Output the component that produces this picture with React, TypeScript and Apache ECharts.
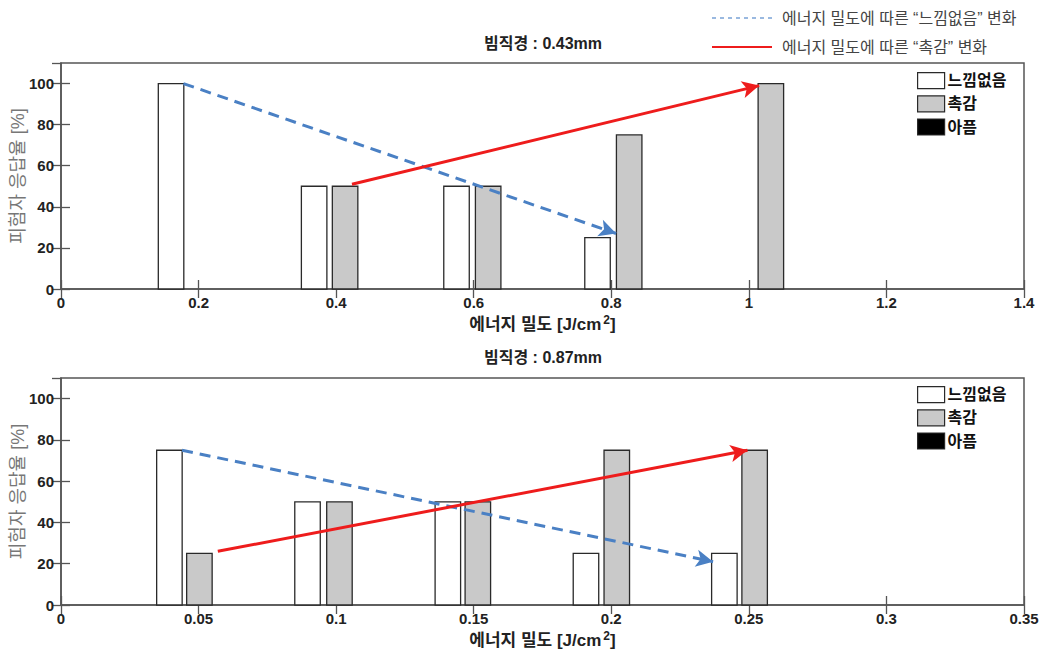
import React, { useEffect, useRef } from "react";
import * as echarts from "echarts";

// ---- Data ----
const seriesNames = ["느낌없음", "촉감", "아픔"];

// Panel 1: beam diameter 0.43 mm, x = energy density [J/cm²], y = response rate [%]
const topNoFeel: number[][] = [[0.16, 100], [0.368, 50], [0.575, 50], [0.78, 25]];
const topTouch: number[][] = [[0.413, 50], [0.621, 50], [0.826, 75], [1.032, 100]];
const topPain: number[][] = [];
const topNoFeelTrend: number[][] = [[0.178, 100], [0.807, 27]];
const topTouchTrend: number[][] = [[0.423, 51], [1.015, 99]];

// Panel 2: beam diameter 0.87 mm
const botNoFeel: number[][] = [[0.0394, 75], [0.0896, 50], [0.1406, 50], [0.1908, 25], [0.2411, 25]];
const botTouch: number[][] = [[0.0503, 25], [0.1012, 50], [0.1515, 50], [0.202, 75], [0.2521, 75]];
const botPain: number[][] = [];
const botNoFeelTrend: number[][] = [[0.044, 75], [0.237, 21]];
const botTouchTrend: number[][] = [[0.057, 26], [0.2495, 75]];

const titles = ["빔직경 : 0.43mm", "빔직경 : 0.87mm"];
const xMax = [1.4, 0.35];
const xInterval = [0.2, 0.05];
const yTicks = [0, 20, 40, 60, 80, 100];
const trendLegend = ["에너지 밀도에 따른 “느낌없음” 변화", "에너지 밀도에 따른 “촉감” 변화"];

const FONT = "'Liberation Sans', 'Noto Sans CJK KR', sans-serif";
const fills = ["#ffffff", "#c9c9c9", "#000000"];
const EDGE = "#2a2a2a";
const BLUE = "#4a80c4";
const RED = "#ee1c1c";

function barSeries(name: string, data: number[][], idx: number, fill: string, barW: number) {
  return {
    type: "custom",
    name,
    xAxisIndex: idx * 2,
    yAxisIndex: idx * 2,
    data,
    renderItem: (params: any, api: any) => {
      const top = api.coord([api.value(0), api.value(1)]);
      const base = api.coord([api.value(0), 0]);
      return {
        type: "rect",
        shape: { x: top[0] - barW / 2, y: top[1], width: barW, height: base[1] - top[1] },
        style: { fill, stroke: EDGE, lineWidth: 1.3 },
      };
    },
    itemStyle: { color: fill, borderColor: EDGE, borderWidth: 1.2 },
    z: 2,
  };
}

function trendSeries(idx: number, pts: number[][], color: string, dashed: boolean) {
  return {
    type: "line",
    xAxisIndex: idx * 2,
    yAxisIndex: idx * 2,
    data: [],
    silent: true,
    z: 5,
    markLine: {
      silent: true,
      animation: false,
      symbol: ["none", "arrow"],
      symbolSize: [13, 17],
      label: { show: false },
      emphasis: { disabled: true },
      lineStyle: { color, width: 3, type: dashed ? [11, 7] : "solid", opacity: 1 },
      data: [[{ coord: pts[0] }, { coord: pts[1] }]],
    },
  };
}

export default function App() {
  const ref = useRef<HTMLDivElement>(null);
  useEffect(() => {
    document.body.style.margin = "0";
    const chart = echarts.init(ref.current!, null, { renderer: "svg" });
    const grids = [
      { left: 61, top: 63, width: 963, height: 226 },
      { left: 61, top: 378, width: 963, height: 227 },
    ];
    const xAxes: any[] = [];
    const yAxes: any[] = [];
    [0, 1].forEach((i) => {
      xAxes.push({
        type: "value",
        gridIndex: i,
        min: 0,
        max: xMax[i],
        interval: xInterval[i],
        position: "bottom",
        name: "에너지 밀도 [J/cm{sup|2}]",
        nameLocation: "middle",
        nameGap: 25,
        nameMoveOverlap: false,
        nameTextStyle: {
          fontFamily: FONT,
          fontSize: 17,
          fontWeight: "bold",
          color: "#222",
          rich: { sup: { fontSize: 12, fontWeight: "bold", fontFamily: FONT, color: "#222", padding: [0, 0, 9, 2] } },
        },
        axisLine: { show: true, lineStyle: { color: "#555", width: 1.5 } },
        axisTick: { show: true, inside: true, length: 9, lineStyle: { color: "#555", width: 1.3 } },
        axisLabel: { fontFamily: FONT, fontSize: 15, fontWeight: "bold", color: "#222", margin: 6 },
        splitLine: { show: false },
      });
      xAxes.push({
        type: "value",
        gridIndex: i,
        min: 0,
        max: xMax[i],
        interval: xInterval[i],
        position: "top",
        axisLine: { show: false },
        axisTick: { show: true, inside: true, length: 9, lineStyle: { color: "#555", width: 1.3 } },
        axisLabel: { show: false },
        splitLine: { show: false },
      });
      yAxes.push({
        type: "value",
        gridIndex: i,
        min: 0,
        max: 110,
        interval: 20,
        position: "left",
        name: "피험자 응답율 [%]",
        nameLocation: "middle",
        nameGap: 34,
        nameMoveOverlap: false,
        nameTextStyle: { fontFamily: FONT, fontSize: 18, color: "#777" },
        axisLine: { show: true, lineStyle: { color: "#555", width: 1.5 } },
        axisTick: { show: true, inside: true, length: 9, lineStyle: { color: "#555", width: 1.3 } },
        axisLabel: {
          fontFamily: FONT,
          fontSize: 15,
          fontWeight: "bold",
          color: "#222",
          margin: 7,
          showMaxLabel: false,
          formatter: (v: number) => (yTicks.includes(v) ? String(v) : ""),
        },
        splitLine: { show: false },
      });
      yAxes.push({
        type: "value",
        gridIndex: i,
        min: 0,
        max: 110,
        interval: 20,
        position: "right",
        axisLine: { show: false },
        axisTick: { show: true, inside: true, length: 9, lineStyle: { color: "#555", width: 1.3 } },
        axisLabel: { show: false },
        splitLine: { show: false },
      });
    });

    const panels = [
      { noFeel: topNoFeel, touch: topTouch, pain: topPain, nfT: topNoFeelTrend, tT: topTouchTrend, w: 25.5 },
      { noFeel: botNoFeel, touch: botTouch, pain: botPain, nfT: botNoFeelTrend, tT: botTouchTrend, w: 25.5 },
    ];
    const series: any[] = [];
    panels.forEach((p, i) => {
      series.push(barSeries(seriesNames[0], p.noFeel, i, fills[0], p.w));
      series.push(barSeries(seriesNames[1], p.touch, i, fills[1], p.w));
      series.push(barSeries(seriesNames[2], p.pain, i, fills[2], p.w));
      series.push(trendSeries(i, p.nfT, BLUE, true));
      series.push(trendSeries(i, p.tT, RED, false));
    });

    const legendTops = [72, 386];
    const legends = legendTops.map((top) => ({
      left: 917,
      top,
      orient: "vertical",
      padding: 0,
      itemGap: 6,
      itemWidth: 27,
      itemHeight: 16,
      selectedMode: false,
      icon: "rect",
      textStyle: { fontFamily: FONT, fontSize: 16, fontWeight: "bold", color: "#111", padding: [0, 0, 0, -2] },
      data: seriesNames.map((n, k) => ({
        name: n,
        icon: "rect",
        itemStyle: { color: fills[k], borderColor: EDGE, borderWidth: 1.2 },
      })),
    }));

    const graphic: any[] = [
      { type: "line", shape: { x1: 712, y1: 18, x2: 772, y2: 18 }, style: { stroke: "#7aa2d6", lineWidth: 1.5, lineDash: [4, 4] } },
      { type: "text", x: 782, y: 18, style: { text: trendLegend[0], fontFamily: FONT, fontSize: 16, fill: "#444", verticalAlign: "middle" } },
      { type: "line", shape: { x1: 712, y1: 47, x2: 772, y2: 47 }, style: { stroke: RED, lineWidth: 2 } },
      { type: "text", x: 782, y: 47, style: { text: trendLegend[1], fontFamily: FONT, fontSize: 16, fill: "#444", verticalAlign: "middle" } },
      { type: "text", x: 543, y: 43, style: { text: titles[0], fontFamily: FONT, fontSize: 16, fontWeight: "bold", fill: "#222", align: "center", verticalAlign: "middle" } },
      { type: "text", x: 543, y: 357, style: { text: titles[1], fontFamily: FONT, fontSize: 16, fontWeight: "bold", fill: "#222", align: "center", verticalAlign: "middle" } },
    ];

    chart.setOption({
      animation: false,
      backgroundColor: "#fff",
      grid: grids.map((g) => ({
        ...g,
        show: true,
        borderColor: "#555",
        borderWidth: 1.5,
        backgroundColor: "transparent",
        containLabel: false,
        outerBoundsMode: "none",
      })),
      xAxis: xAxes,
      yAxis: yAxes,
      legend: legends,
      series,
      graphic,
    });
    return () => chart.dispose();
  }, []);
  return <div ref={ref} style={{ width: 1046, height: 652 }} />;
}
